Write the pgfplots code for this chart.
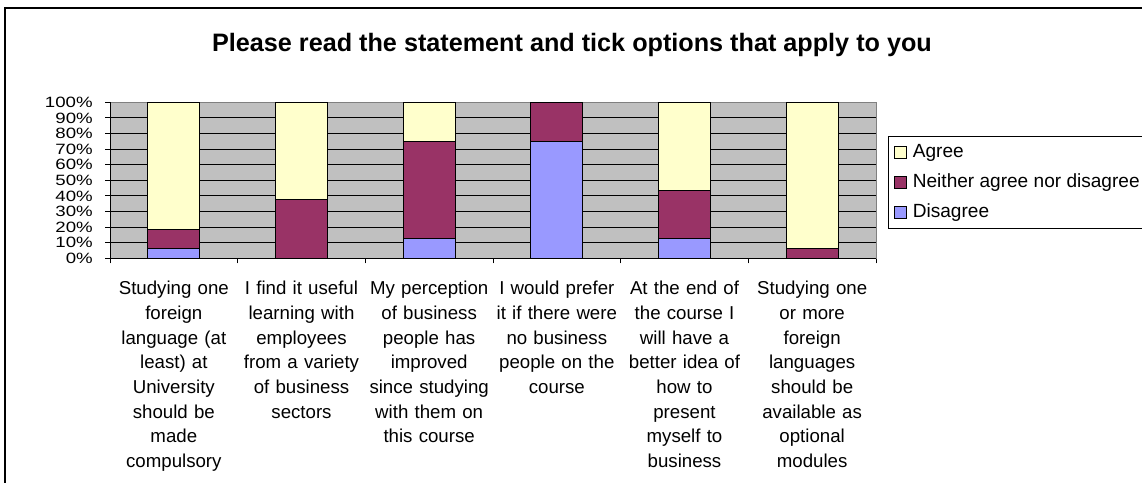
\documentclass[border=0pt]{standalone}
\usepackage{fontspec}
\setmainfont{Liberation Sans}
\usepackage{graphicx}
\usepackage{pgfplots}
\pgfplotsset{compat=1.18}
\definecolor{agree}{HTML}{FFFFCC}
\definecolor{neither}{HTML}{993366}
\definecolor{disagree}{HTML}{9999FF}
\definecolor{plotgray}{HTML}{C0C0C0}
\begin{document}
\begin{tikzpicture}
% picture is 1142 x 482 px, 1px = 0.75pt, origin top left
\useasboundingbox (0,0) rectangle (856.5pt,-361.5pt);
\draw[line width=0.8pt] (3.75pt,-362pt) -- (3.75pt,-6pt) -- (857pt,-6pt);
\node[anchor=base, font=\fontsize{18.9}{22}\selectfont\bfseries] at (429pt,-38.25pt)
  {Please read the statement and tick options that apply to you};
\begin{axis}[
  at={(82.5pt,-193.7pt)}, anchor=south west,
  scale only axis, width=574.5pt, height=117pt,
  ybar stacked, bar width=39pt,
  xmin=0.5, xmax=6.5, ymin=0, ymax=100,
  axis background/.style={fill=plotgray},
  axis line style={draw=gray, line width=0.75pt},
  ytick={0,10,...,100},
  ymajorgrids, major grid style={black, line width=0.75pt},
  tick align=outside, major tick length=3.75pt, tick pos=left,
  tick style={black, line width=0.75pt},
  /pgf/number format/assume math mode=true,
  yticklabel={\scalebox{1}[0.8]{\pgfmathprintnumber{\tick}\%}},
  yticklabel style={font=\fontsize{14}{14}\selectfont, anchor=east, inner sep=0pt, xshift=-9pt},
  xtick={0.5,1.5,...,6.5}, xticklabels={},
  extra x ticks={1,2,3,4,5,6},
  extra x tick labels={
    {Studying one\\foreign\\language (at\\least) at\\University\\should be\\made\\compulsory},
    {I find it useful\\learning with\\employees\\from a variety\\of business\\sectors},
    {My perception\\of business\\people has\\improved\\since studying\\with them on\\this course},
    {I would prefer\\it if there were\\no business\\people on the\\course},
    {At the end of\\the course I\\will have a\\better idea of\\how to\\present\\myself to\\business},
    {Studying one\\or more\\foreign\\languages\\should be\\available as\\optional\\modules}},
  extra x tick style={major tick length=0pt, tick style={draw=none}},
  xticklabel style={font=\fontsize{14}{18.5}\selectfont, align=center, text width=96pt,
    anchor=north, inner sep=0pt, yshift=-17pt},
  legend image code/.code={\draw[#1, draw=black, line width=0.75pt] (0pt,-4.5pt) rectangle (9pt,4.5pt);},
  reverse legend, legend cell align=left,
  legend style={at={(1.0157,0.786)}, anchor=north west, draw=black, line width=0.75pt,
    fill=white, font=\fontsize{14.3}{16}\selectfont, inner xsep=4pt, inner ysep=1pt,
    row sep=0pt, column sep=2.5pt,
    nodes={text height=10.5pt, text depth=3pt, inner ysep=4.5pt, inner xsep=2pt}},
]
\addplot[fill=disagree, draw=black, line width=0.75pt]
  coordinates {(1,6.25) (2,0) (3,12.5) (4,75) (5,12.5) (6,0)};
\addplot[fill=neither, draw=black, line width=0.75pt]
  coordinates {(1,12.5) (2,37.5) (3,62.5) (4,25) (5,31.25) (6,6.25)};
\addplot[fill=agree, draw=black, line width=0.75pt]
  coordinates {(1,81.25) (2,62.5) (3,25) (4,0) (5,56.25) (6,93.75)};
\legend{Disagree, Neither agree nor disagree, Agree}
\draw[black, line width=0.75pt] (rel axis cs:0,1) -- (rel axis cs:0,0) -- (rel axis cs:1,0);
\end{axis}
\end{tikzpicture}
\end{document}
